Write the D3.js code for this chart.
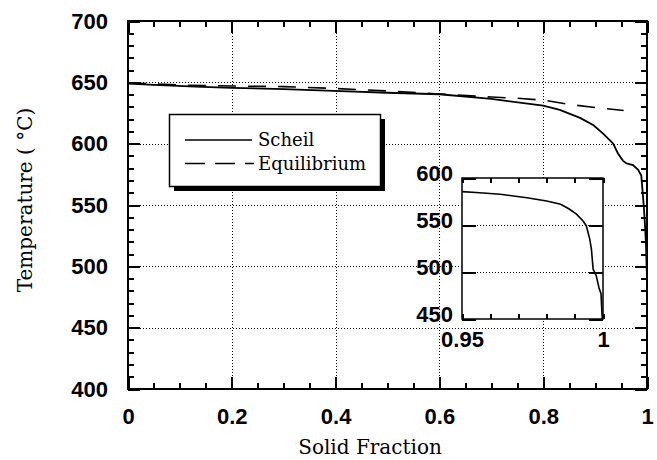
<!DOCTYPE html>
<html>
<head>
<meta charset="utf-8">
<script src="https://cdn.jsdelivr.net/npm/d3@7"></script>
<style>
  html, body { margin: 0; padding: 0; background: #fff; }
  svg { display: block; }
</style>
</head>
<body>
<svg id="chart" width="657" height="460"></svg>
<script>
// ---- data ----
const scheilF = [0, 0.05, 0.13, 0.2, 0.3, 0.41, 0.5, 0.6, 0.7, 0.8, 0.832, 0.871, 0.897, 0.916, 0.935, 0.944, 0.954, 0.96, 0.973, 0.983, 0.989, 0.9915, 0.994, 0.996, 0.998, 0.9995];
const scheilT = [649, 648, 646.5, 645.5, 644.5, 642.8, 641.5, 640.3, 636.5, 631, 627.5, 621, 615, 608, 600, 592, 586, 584, 582.5, 578.7, 574, 561, 548, 534.5, 518.5, 496];
const equilF = [0, 0.1, 0.2, 0.3, 0.4, 0.5, 0.6, 0.7, 0.75, 0.8, 0.85, 0.9, 0.955];
const equilT = [649.5, 647.8, 647, 646.5, 645, 643, 640.5, 638, 637, 635.5, 632, 629.5, 627];
const insetF = [0.95, 0.955, 0.9635, 0.973, 0.98, 0.985, 0.988, 0.9906, 0.993, 0.9941, 0.9953, 0.9959, 0.9965, 0.9976, 0.9986, 0.9993, 0.9999];
const insetT = [585.5, 584.5, 582.7, 579, 575.5, 572, 567, 561.5, 554, 549, 535, 524, 503, 496, 483, 477, 440];
const xTicks = [0, 0.2, 0.4, 0.6, 0.8, 1];
const xTickLabels = ["0", "0.2", "0.4", "0.6", "0.8", "1"];
const yTicks = [400, 450, 500, 550, 600, 650, 700];
const insetXTickLabels = ["0.95", "1"];
const insetYTicks = [450, 500, 550, 600];
const legendLabels = ["Scheil", "Equilibrium"];
const xTitle = "Solid Fraction";
const yTitle = "Temperature ( °C)";

// ---- layout ----
const svg = d3.select("#chart");
const L = 128, R = 647, T = 21, B = 389;
const x = d3.scaleLinear().domain([0, 1]).range([L, R]);
const y = d3.scaleLinear().domain([400, 700]).range([B, T]);
const iL = 462, iR = 603, iT = 178, iB = 319;
const xi = d3.scaleLinear().domain([0.95, 1]).range([iL, iR]);
const yi = d3.scaleLinear().domain([450, 600]).range([iB, iT]);

const tickFont = "'Liberation Sans', Arial, sans-serif";
const serif = "'DejaVu Serif', serif";

svg.append("rect").attr("width", 657).attr("height", 460).attr("fill", "#fff");

const defs = svg.append("defs");
defs.append("clipPath").attr("id", "mainClip").append("rect")
  .attr("x", L).attr("y", T).attr("width", R - L).attr("height", B - T);
defs.append("clipPath").attr("id", "insetClip").append("rect")
  .attr("x", iL).attr("y", iT).attr("width", iR - iL).attr("height", iB - iT);

// grid
const grid = svg.append("g").attr("stroke", "#000").attr("stroke-width", 1)
  .attr("stroke-dasharray", "1,2").attr("shape-rendering", "crispEdges");
grid.selectAll(".gx").data(xTicks.slice(1, -1)).join("line")
  .attr("x1", d => Math.round(x(d)) + 0.5).attr("x2", d => Math.round(x(d)) + 0.5)
  .attr("y1", T).attr("y2", B);
grid.selectAll(".gy").data(yTicks.slice(1, -1)).join("line")
  .attr("x1", L).attr("x2", R)
  .attr("y1", d => Math.round(y(d)) + 0.5).attr("y2", d => Math.round(y(d)) + 0.5);

// curves
const lineMain = d3.line().x(d => x(d[0])).y(d => y(d[1]));
svg.append("path").attr("clip-path", "url(#mainClip)")
  .datum(equilF.map((f, i) => [f, equilT[i]]))
  .attr("d", lineMain).attr("fill", "none").attr("stroke", "#000")
  .attr("stroke-width", 1.6).attr("stroke-dasharray", "18,12");
svg.append("path").attr("clip-path", "url(#mainClip)")
  .datum(scheilF.map((f, i) => [f, scheilT[i]]))
  .attr("d", lineMain).attr("fill", "none").attr("stroke", "#000")
  .attr("stroke-width", 1.8);

// legend
const lg = svg.append("g");
lg.append("rect").attr("x", 174).attr("y", 119).attr("width", 211).attr("height", 72).attr("fill", "#000");
lg.append("rect").attr("x", 169.5).attr("y", 114.5).attr("width", 211).attr("height", 72)
  .attr("fill", "#fff").attr("stroke", "#000").attr("stroke-width", 1.5);
lg.append("line").attr("x1", 185).attr("x2", 252).attr("y1", 140).attr("y2", 140)
  .attr("stroke", "#000").attr("stroke-width", 1.5);
lg.append("line").attr("x1", 185).attr("x2", 254).attr("y1", 163.5).attr("y2", 163.5)
  .attr("stroke", "#000").attr("stroke-width", 1.5).attr("stroke-dasharray", "20,10");
lg.selectAll("text").data(legendLabels).join("text")
  .attr("x", 258).attr("y", (d, i) => 146 + i * 24)
  .attr("font-family", serif).attr("font-size", 18).attr("fill", "#000")
  .text(d => d);

// inset
const ins = svg.append("g");
ins.append("rect").attr("x", iL).attr("y", iT).attr("width", iR - iL).attr("height", iB - iT).attr("fill", "#fff");
ins.selectAll(".igy").data([500, 550]).join("line")
  .attr("x1", iL).attr("x2", iR)
  .attr("y1", d => Math.round(yi(d)) + 0.5).attr("y2", d => Math.round(yi(d)) + 0.5)
  .attr("stroke", "#000").attr("stroke-dasharray", "1,2").attr("shape-rendering", "crispEdges");
const lineInset = d3.line().x(d => xi(d[0])).y(d => yi(d[1]));
ins.append("path").attr("clip-path", "url(#insetClip)")
  .datum(insetF.map((f, i) => [f, insetT[i]]))
  .attr("d", lineInset).attr("fill", "none").attr("stroke", "#000").attr("stroke-width", 1.6);

function styleAxis(g, size) {
  g.attr("font-family", tickFont).attr("font-size", size).attr("font-weight", "bold");
  g.select(".domain").remove();
  g.selectAll("line").attr("stroke", "#000").attr("stroke-width", 2).attr("shape-rendering", "crispEdges");
  g.selectAll("text").attr("fill", "#000");
}

const insXTickVals = d3.range(0, 6).map(i => 0.95 + i * 0.01);
// inset axes
ins.append("g").attr("transform", `translate(0,${iB})`)
  .call(d3.axisBottom(xi).tickValues(insXTickVals).tickSize(-5).tickPadding(12)
    .tickFormat((d, i) => i === 0 ? insetXTickLabels[0] : (i === 5 ? insetXTickLabels[1] : "")))
  .call(g => styleAxis(g, 22));
ins.append("g").attr("transform", `translate(0,${iT})`)
  .call(d3.axisTop(xi).tickValues(insXTickVals).tickSize(-5).tickFormat(""))
  .call(g => styleAxis(g, 22));
ins.append("g").attr("transform", `translate(${iL},0)`)
  .call(d3.axisLeft(yi).tickValues(insetYTicks).tickSize(-14).tickPadding(9).tickFormat(d3.format("d")))
  .call(g => { styleAxis(g, 22); g.selectAll("text").attr("dy", "0.1em"); });
ins.append("g").attr("transform", `translate(${iR},0)`)
  .call(d3.axisRight(yi).tickValues(insetYTicks).tickSize(-14).tickFormat(""))
  .call(g => styleAxis(g, 22));
ins.append("rect").attr("x", iL).attr("y", iT).attr("width", iR - iL).attr("height", iB - iT)
  .attr("fill", "none").attr("stroke", "#000").attr("stroke-width", 1.5);

// main axes
const xMinor = d3.range(0, 21).map(i => i * 0.05).filter(v => Math.abs(v * 5 - Math.round(v * 5)) > 1e-6);
const yMinor = d3.range(400, 701, 10).filter(v => v % 50 !== 0);

svg.append("g").attr("transform", `translate(0,${B})`)
  .call(d3.axisBottom(x).tickValues(xTicks).tickSize(-12).tickPadding(19).tickFormat((d, i) => xTickLabels[i]))
  .call(g => styleAxis(g, 22));
svg.append("g").attr("transform", `translate(0,${B})`)
  .call(d3.axisBottom(x).tickValues(xMinor).tickSize(-6).tickFormat(""))
  .call(g => styleAxis(g, 22));
svg.append("g").attr("transform", `translate(0,${T})`)
  .call(d3.axisTop(x).tickValues(xTicks).tickSize(-12).tickFormat(""))
  .call(g => styleAxis(g, 22));
svg.append("g").attr("transform", `translate(0,${T})`)
  .call(d3.axisTop(x).tickValues(xMinor).tickSize(-6).tickFormat(""))
  .call(g => styleAxis(g, 22));
svg.append("g").attr("transform", `translate(${L},0)`)
  .call(d3.axisLeft(y).tickValues(yTicks).tickSize(-12).tickPadding(20).tickFormat(d3.format("d")))
  .call(g => styleAxis(g, 22));
svg.append("g").attr("transform", `translate(${L},0)`)
  .call(d3.axisLeft(y).tickValues(yMinor).tickSize(-6).tickFormat(""))
  .call(g => styleAxis(g, 22));
svg.append("g").attr("transform", `translate(${R},0)`)
  .call(d3.axisRight(y).tickValues(yTicks).tickSize(-12).tickFormat(""))
  .call(g => styleAxis(g, 22));
svg.append("g").attr("transform", `translate(${R},0)`)
  .call(d3.axisRight(y).tickValues(yMinor).tickSize(-6).tickFormat(""))
  .call(g => styleAxis(g, 22));

svg.append("rect").attr("x", L).attr("y", T).attr("width", R - L).attr("height", B - T)
  .attr("fill", "none").attr("stroke", "#000").attr("stroke-width", 2).attr("shape-rendering", "crispEdges");

// titles
svg.append("text").attr("x", 370).attr("y", 454)
  .attr("text-anchor", "middle").attr("font-family", serif).attr("font-size", 20).attr("fill", "#000")
  .text(xTitle);
svg.append("text").attr("transform", "translate(32,200) rotate(-90)")
  .attr("text-anchor", "middle").attr("font-family", serif).attr("font-size", 20).attr("fill", "#000")
  .text(yTitle);
</script>
</body>
</html>
